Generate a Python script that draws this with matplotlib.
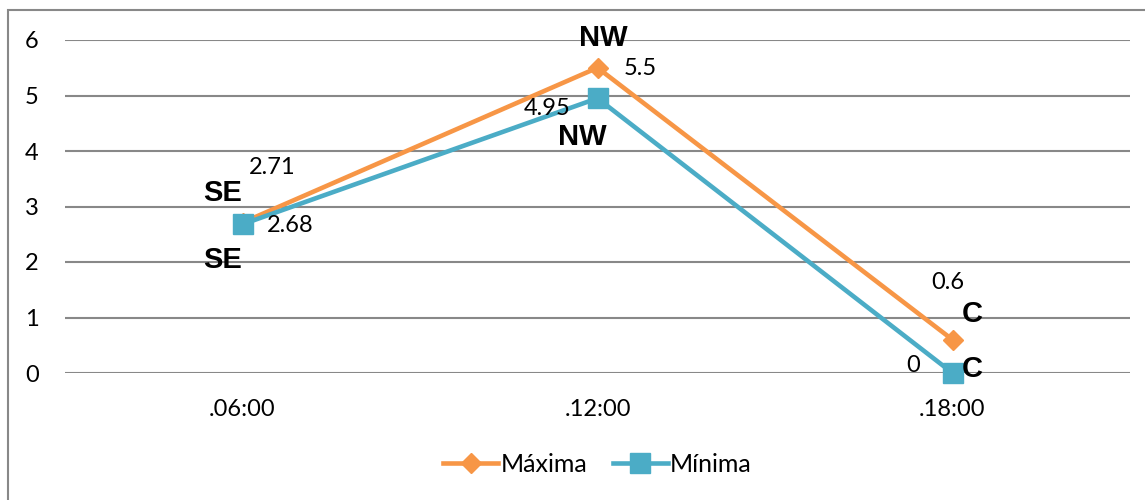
import matplotlib.pyplot as plt
from matplotlib.patches import Rectangle

# datos de viento por horario
horas = ['.06:00', '.12:00', '.18:00']
maxima = [2.71, 5.5, 0.6]
minima = [2.68, 4.95, 0.0]
dir_max = ['SE', 'NW', 'C']
dir_min = ['SE', 'NW', 'C']

NARANJA = '#F79646'
AZUL = '#4BACC6'
GRIS = '#888888'

fig = plt.figure(figsize=(11.45, 5), dpi=100)
ax = fig.add_axes([65 / 1145, 1 - 373 / 500, (1130 - 65) / 1145, (373 - 40) / 500])

x = list(range(len(horas)))
ax.plot(x, maxima, color=NARANJA, lw=3.3, marker='D', ms=10.5, label='Máxima',
        zorder=3, clip_on=False)
ax.plot(x, minima, color=AZUL, lw=3.3, marker='s', ms=14, label='Mínima',
        zorder=4, clip_on=False)

ax.set_xlim(-0.5, 2.5)
ax.set_ylim(0, 6)
ax.set_yticks(range(0, 7))
ax.set_xticks(x)
ax.set_xticklabels(horas)
ax.grid(axis='y', color=GRIS, lw=1.5)
ax.set_axisbelow(True)
for s in ax.spines.values():
    s.set_visible(False)
ax.tick_params(length=0, labelsize=17)
ax.tick_params(axis='y', pad=19)
ax.tick_params(axis='x', pad=19)
for t in ax.get_xticklabels() + ax.get_yticklabels():
    t.set_fontfamily('Lato')

# etiquetas de valor (offsets en pixeles)
off_val_max = [(30, 55), (43, -1), (-5, 57)]
off_val_min = [(48, -1), (-50, -10), (-39, 7)]
off_dir_max = [(-20, 30), (6, 30), (20, 26)]
off_dir_min = [(-20, -36), (-15, -39), (20, 4)]

def etiqueta(xi, yi, txt, off, bold=False):
    if bold:
        kw = dict(fontsize=21, fontweight='bold', fontfamily='Liberation Sans')
    else:
        kw = dict(fontsize=17, fontfamily='Lato')
    ax.annotate(txt, (xi, yi), xytext=off, textcoords='offset pixels',
                ha='center', va='center', zorder=5, **kw)

for i in x:
    etiqueta(i, maxima[i], f'{maxima[i]:g}', off_val_max[i])
    etiqueta(i, minima[i], f'{minima[i]:g}', off_val_min[i])
    etiqueta(i, maxima[i], dir_max[i], off_dir_max[i], bold=True)
    etiqueta(i, minima[i], dir_min[i], off_dir_min[i], bold=True)

leg = ax.legend(loc='center', bbox_to_anchor=(0.5, -0.275), ncol=2, frameon=False,
                prop={'family': 'Lato', 'size': 18}, handlelength=2.2,
                handletextpad=0.1, columnspacing=1.0)

# marco del grafico
fig.patches.append(Rectangle((8 / 1145, -0.1), 1.2, 1.1 - 10 / 500,
                             transform=fig.transFigure, fill=False,
                             edgecolor=GRIS, lw=1.5))

fig.savefig('out.png', dpi=100)
